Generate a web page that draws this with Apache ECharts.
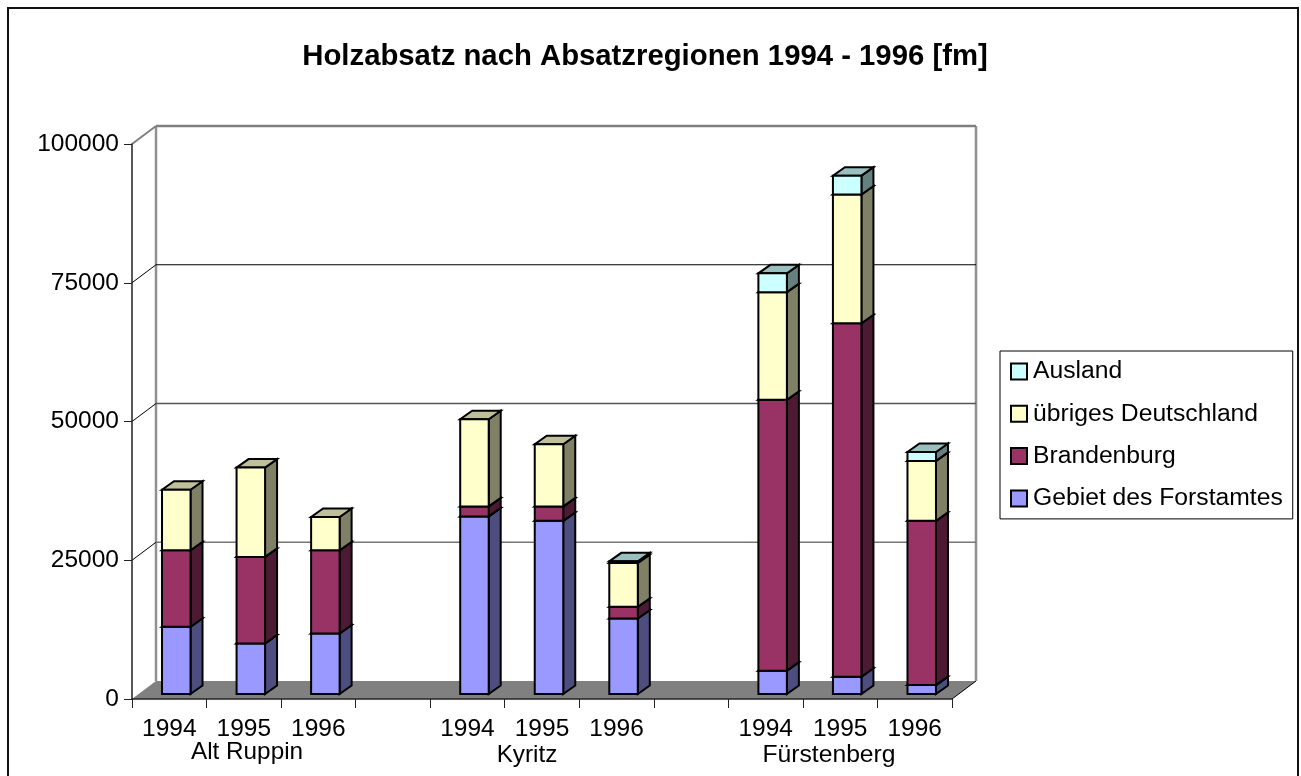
<!DOCTYPE html>
<html><head><meta charset="utf-8">
<style>html,body{margin:0;padding:0;background:#fff}#c{width:1301px;height:776px}</style>
<script src="https://cdn.jsdelivr.net/npm/echarts@6/dist/echarts.min.js"></script>
</head><body><div id="c"></div>
<script>
const categories = ['1994','1995','1996','','1994','1995','1996','','1994','1995','1996'];
const groups = ['Alt Ruppin','Kyritz','Fürstenberg'];
const yTicks = [0,25000,50000,75000,100000];
const forstamt = [12100,9100,10900,null,32000,31200,13600,null,4200,3100,1600];
const brandenburg = [13800,15600,15000,null,1800,2600,2100,null,48800,63700,29600];
const deutschland = [10900,16100,6000,null,15700,11200,7900,null,19400,23200,10800];
const ausland = [0,0,0,null,0,0,300,null,3400,3400,1600];
const seriesDefs = [
 {name:'Gebiet des Forstamtes', values:forstamt, front:'#9999FF', side:'#4D4D80', top:'#7373BF'},
 {name:'Brandenburg', values:brandenburg, front:'#993366', side:'#4D1A33', top:'#73264D'},
 {name:'übriges Deutschland', values:deutschland, front:'#FFFFCC', side:'#808066', top:'#BFBF99'},
 {name:'Ausland', values:ausland, front:'#CCFFFF', side:'#668080', top:'#99BFBF'}
];
const FONT = '"Liberation Sans", Arial, sans-serif';
const depth = {x:24, y:18};
const barOff = {x:7, y:5}, barDepth = {x:12, y:8.5}, barW = 28.5;
const gridStyle = {25000:{stroke:'#777',lineWidth:1.5},50000:{stroke:'#555',lineWidth:1.5},75000:{stroke:'#000',lineWidth:1},100000:{stroke:'#808080',lineWidth:2.5}};

const cum = categories.map(()=>0);
const barSeries = seriesDefs.map(def=>{
  const data = [];
  def.values.forEach((v,i)=>{
    if(v===null) return;
    const lo = cum[i]; cum[i] += v;
    if(v>0) data.push([i,lo,cum[i]]);
  });
  return {
    name:def.name, type:'custom', coordinateSystem:'cartesian2d', z:5,
    itemStyle:{color:def.front},
    encode:{x:0,y:[1,2]}, data,
    clip:false, silent:true,
    renderItem(params,api){
      const c0 = api.coord([api.value(0),api.value(1)]);
      const c1 = api.coord([api.value(0),api.value(2)]);
      const l = c0[0]+barOff.x-barW/2, r = l+barW;
      const b = c0[1]-barOff.y, t = c1[1]-barOff.y;
      const st = (f)=>({fill:f,stroke:'#000',lineWidth:2,lineJoin:'miter'});
      return {type:'group',children:[
        {type:'polygon',shape:{points:[[r,b],[r+barDepth.x,b-barDepth.y],[r+barDepth.x,t-barDepth.y],[r,t]]},style:st(def.side)},
        {type:'polygon',shape:{points:[[l,t],[r,t],[r+barDepth.x,t-barDepth.y],[l+barDepth.x,t-barDepth.y]]},style:st(def.top)},
        {type:'rect',shape:{x:l,y:t,width:barW,height:b-t},style:st(def.front)}
      ]};
    }
  };
});

const wallSeries = {
  type:'custom', coordinateSystem:'cartesian2d', z:1, silent:true, clip:false,
  data: yTicks.map(v=>[0,v]), encode:{x:0,y:1},
  renderItem(params,api){
    const v = api.value(1);
    const p = api.coord([0,v]);
    const x0 = params.coordSys.x, x1 = x0+params.coordSys.width;
    const y = p[1];
    const kids = [];
    if(v===0){
      kids.push({type:'polygon',shape:{points:[[x0,y],[x1,y],[x1+depth.x,y-depth.y],[x0+depth.x,y-depth.y]]},style:{fill:'#808080',stroke:null}});
      kids.push({type:'line',shape:{x1:x1,y1:y,x2:x1+depth.x,y2:y-depth.y},style:{stroke:'#000',lineWidth:1}});
      const top = api.coord([0,100000])[1]-depth.y;
      kids.push({type:'line',shape:{x1:x0+depth.x,y1:y-depth.y,x2:x0+depth.x,y2:top},style:{stroke:'#909090',lineWidth:2.5}});
      kids.push({type:'line',shape:{x1:x1+depth.x,y1:y-depth.y,x2:x1+depth.x,y2:top},style:{stroke:'#909090',lineWidth:2.5}});
    } else {
      const grey = v===100000;
      kids.push({type:'line',shape:{x1:x0,y1:y,x2:x0+depth.x,y2:y-depth.y},style:{stroke:grey?'#808080':'#000',lineWidth:grey?2:1}});
      kids.push({type:'line',shape:{x1:x0+depth.x,y1:y-depth.y,x2:x1+depth.x,y2:y-depth.y},style:gridStyle[v]});
    }
    return {type:'group',children:kids};
  }
};

const chart = echarts.init(document.getElementById('c'),null,{renderer:'canvas'});
chart.setOption({
  animation:false, backgroundColor:'#fff',
  textStyle:{fontFamily:FONT},
  title:{text:'Holzabsatz nach Absatzregionen 1994 - 1996 [fm]',left:640,top:37,textAlign:'center',
    textStyle:{fontFamily:FONT,fontSize:29.3,fontWeight:'bold',color:'#000'}},
  legend:{orient:'vertical',left:1000,top:351,padding:[8,10,8,10],itemGap:17.3,itemWidth:16,itemHeight:16,
    data:['Ausland','übriges Deutschland','Brandenburg','Gebiet des Forstamtes'],
    icon:'rect',borderColor:'#000',borderWidth:1,backgroundColor:'#fff',selectedMode:false,
    itemStyle:{borderColor:'#000',borderWidth:2},
    textStyle:{fontFamily:FONT,fontSize:24.7,color:'#000',padding:[0,0,0,1],lineHeight:24}},
  grid:{left:132,right:349,top:144,bottom:77,containLabel:false},
  xAxis:{type:'category',data:categories,boundaryGap:true,
    axisLine:{show:true,lineStyle:{color:'#222',width:1.5}},
    axisTick:{show:true,interval:0,length:9,lineStyle:{color:'#222',width:1}},
    axisLabel:{interval:0,margin:18,fontFamily:FONT,fontSize:24.5,color:'#000'},
    splitLine:{show:false},z:3},
  yAxis:{type:'value',min:0,max:100000,interval:25000,
    axisLine:{show:true,lineStyle:{color:'#222',width:1.5}},
    axisTick:{show:true,length:8,lineStyle:{color:'#222',width:1}},
    axisLabel:{margin:13,fontFamily:FONT,fontSize:24.5,color:'#000',formatter:v=>String(v)},
    splitLine:{show:false},z:3},
  graphic:[
    {type:'rect',z:-10,shape:{x:8,y:8,width:1290,height:800},style:{fill:'#fff',stroke:'#111',lineWidth:2}},
    {type:'text',x:247,y:752,style:{text:groups[0],font:'24.3px '+FONT,fill:'#000',textAlign:'center',textVerticalAlign:'middle'}},
    {type:'text',x:527,y:755,style:{text:groups[1],font:'24.3px '+FONT,fill:'#000',textAlign:'center',textVerticalAlign:'middle'}},
    {type:'text',x:829,y:755,style:{text:groups[2],font:'24.7px '+FONT,fill:'#000',textAlign:'center',textVerticalAlign:'middle'}}
  ],
  series:[wallSeries,...barSeries]
});
</script></body></html>
